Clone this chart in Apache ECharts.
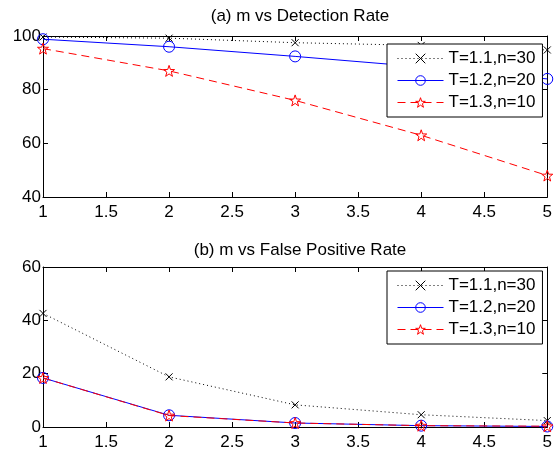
<!DOCTYPE html>
<html><head><meta charset="utf-8">
<script src="https://cdn.jsdelivr.net/npm/echarts@6/dist/echarts.min.js"></script>
<style>html,body{margin:0;padding:0;background:#fff}#c{width:555px;height:452px}</style>
</head><body><div id="c"></div>
<script>
const mValues = [1, 2, 3, 4, 5];
const seriesNames = ['T=1.1,n=30', 'T=1.2,n=20', 'T=1.3,n=10'];
const detT11 = [99.6, 99.2, 97.5, 96.5, 94.8];
const detT12 = [98.8, 96.0, 92.4, 88.5, 84.0];
const detT13 = [95.3, 87.0, 76.0, 63.0, 48.0];
const fpT11 = [42.6, 18.8, 8.3, 4.6, 2.4];
const fpT12 = [18.4, 4.4, 1.5, 0.5, 0.2];
const fpT13 = [18.4, 4.3, 1.5, 0.5, 0.3];
const titleA = '(a) m vs Detection Rate';
const titleB = '(b) m vs False Positive Rate';

function starPath() {
  let d = '';
  for (let i = 0; i < 10; i++) {
    const r = i % 2 === 0 ? 10 : 4;
    const a = -Math.PI / 2 + i * Math.PI / 5;
    const x = (10 + r * Math.cos(a)).toFixed(2), y = (10 + r * Math.sin(a)).toFixed(2);
    d += (i === 0 ? 'M' : 'L') + x + ',' + y;
  }
  return 'path://' + d + 'Z';
}
const crossSym = 'path://M0,0L10,10M10,0L0,10';
const FONT = 'Liberation Sans, Arial, Helvetica, sans-serif';
const FS = 17;
const styles = [
  {color: '#000', line: {type: [1, 3], width: 1}, symbol: crossSym, size: 7},
  {color: '#0000ff', line: {type: 'solid', width: 1}, symbol: 'circle', size: 11},
  {color: '#ff0000', line: {type: [8, 5], width: 1}, symbol: starPath(), size: 11}
];
function mk(name, vals, gi, si) {
  const s = styles[si];
  return {
    name, type: 'line', xAxisIndex: gi * 2, yAxisIndex: gi * 2,
    data: vals.map((v, i) => [mValues[i], v]),
    symbol: s.symbol, symbolSize: s.size, showSymbol: true, clip: false,
    lineStyle: {color: s.color, type: s.line.type, width: s.line.width},
    itemStyle: {color: 'none', borderColor: s.color, borderWidth: 1},
    emphasis: {disabled: true}, animation: false, z: 2 + si
  };
}
function xAx(gi, top) {
  return {type: 'value', gridIndex: gi, min: 1, max: 5, interval: 0.5, position: top ? 'top' : 'bottom',
    axisLine: {show: true, onZero: false, lineStyle: {color: '#000', width: 1}},
    axisTick: {show: true, inside: true, length: 5, lineStyle: {color: '#000'}},
    axisLabel: {show: !top, color: '#000', fontSize: FS, fontFamily: FONT, margin: 7},
    splitLine: {show: false}};
}
function yAx(gi, right, min, max) {
  return {type: 'value', gridIndex: gi, min, max, interval: 20, position: right ? 'right' : 'left',
    axisLine: {show: true, onZero: false, lineStyle: {color: '#000', width: 1}},
    axisTick: {show: true, inside: true, length: 5, lineStyle: {color: '#000'}},
    axisLabel: {show: !right, color: '#000', fontSize: FS, fontFamily: FONT, margin: 2},
    splitLine: {show: false}};
}
function leg(top) {
  return {data: seriesNames, orient: 'vertical', left: 387, top, itemWidth: 46, itemHeight: 12, itemGap: 5,
    padding: [6, 7, 6, 10], backgroundColor: '#fff', borderColor: '#000', borderWidth: 1, borderRadius: 0,
    lineStyle: {width: 1}, itemStyle: {borderWidth: 1},
    textStyle: {color: '#000', fontSize: FS, fontFamily: FONT}, selectedMode: false, z: 10};
}
const chart = echarts.init(document.getElementById('c'), null, {renderer: 'canvas'});
chart.setOption({
  animation: false,
  backgroundColor: '#fff',
  title: [
    {text: titleA, left: 295, top: 3, textAlign: 'center', textStyle: {fontSize: FS, fontWeight: 'normal', color: '#000', fontFamily: FONT}},
    {text: titleB, left: 295, top: 237, textAlign: 'center', textStyle: {fontSize: FS, fontWeight: 'normal', color: '#000', fontFamily: FONT}}
  ],
  grid: [
    {left: 43, right: 7, top: 36, height: 161},
    {left: 43, right: 7, top: 267, height: 160}
  ],
  xAxis: [xAx(0, false), xAx(0, true), xAx(1, false), xAx(1, true)],
  yAxis: [yAx(0, false, 40, 100), yAx(0, true, 40, 100), yAx(1, false, 0, 60), yAx(1, true, 0, 60)],
  legend: [leg(44), leg(271)],
  series: [
    mk(seriesNames[0], detT11, 0, 0), mk(seriesNames[1], detT12, 0, 1), mk(seriesNames[2], detT13, 0, 2),
    mk(seriesNames[0], fpT11, 1, 0), mk(seriesNames[1], fpT12, 1, 1), mk(seriesNames[2], fpT13, 1, 2)
  ]
});
</script></body></html>
